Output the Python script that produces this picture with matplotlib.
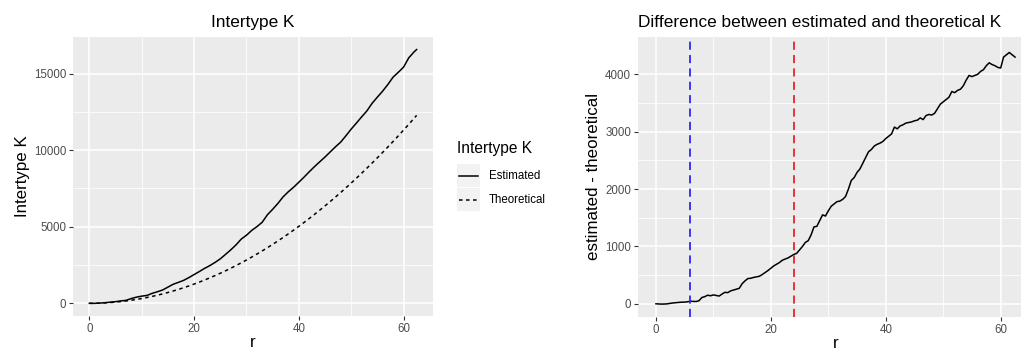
import numpy as np
import matplotlib
matplotlib.use("Agg")
import matplotlib.pyplot as plt
from matplotlib.lines import Line2D
from matplotlib.patches import Rectangle

plt.rcParams['font.family'] = ['Liberation Sans', 'DejaVu Sans']

# distances r (half steps) and estimated - theoretical K
r_fine = np.arange(0, 63, 0.5)
diff = [0, -3, -5, -4, 0, 8, 15, 20, 25, 28, 30, 35, 45, 42, 40, 55,
        110, 125, 150, 140, 155, 145, 135, 170, 200, 195, 225, 240, 255, 270,
        350, 400, 440, 445, 460, 470, 480, 510, 545, 580, 620, 660, 690, 720,
        760, 780, 800, 830, 860, 880, 940, 1000, 1070, 1100, 1200, 1340, 1350,
        1450, 1550, 1530, 1620, 1700, 1740, 1780, 1790, 1820, 1870, 2000, 2150,
        2200, 2290, 2350, 2450, 2550, 2650, 2690, 2750, 2780, 2800, 2830, 2880,
        2920, 2960, 3080, 3050, 3100, 3120, 3150, 3160, 3170, 3190, 3200, 3240,
        3210, 3280, 3300, 3290, 3320, 3400, 3480, 3520, 3560, 3600, 3700, 3680,
        3720, 3740, 3800, 3900, 3980, 3960, 3980, 4000, 4050, 4080, 4150, 4200,
        4170, 4150, 4120, 4110, 4300, 4340, 4380, 4340, 4300]

# r in unit steps and theoretical K
r_unit = list(range(0, 63)) + [62.5]
theo = [0, 3, 13, 28, 50, 79, 113, 154, 201, 254, 314, 380, 452, 531, 616,
        707, 804, 908, 1018, 1134, 1257, 1385, 1521, 1662, 1810, 1963, 2124,
        2290, 2463, 2642, 2827, 3019, 3217, 3421, 3632, 3848, 4072, 4301, 4536,
        4778, 5027, 5281, 5542, 5809, 6082, 6362, 6648, 6940, 7238, 7543, 7854,
        8171, 8495, 8825, 9161, 9503, 9852, 10207, 10568, 10936, 11310, 11690,
        12076, 12272]

diff_unit = [diff[int(v * 2)] for v in r_unit]
estim = [t + d for t, d in zip(theo, diff_unit)]

vlines = [6, 24]
vcolors = ['#2B2BF0', '#E0262B']

W, H = 1021, 352
fig = plt.figure(figsize=(W / 100, H / 100), dpi=100)

def px_axes(x0, y0, x1, y1):
    return fig.add_axes([x0 / W, 1 - y1 / H, (x1 - x0) / W, (y1 - y0) / H])

def gg_style(ax, xlim, ylim, xmaj, ymaj):
    ax.set_facecolor('#EBEBEB')
    ax.set_xlim(*xlim)
    ax.set_ylim(*ylim)
    ax.set_xticks(xmaj)
    ax.set_yticks(ymaj)
    xmin = [(a + b) / 2 for a, b in zip(xmaj[:-1], xmaj[1:])]
    ymin = [(a + b) / 2 for a, b in zip(ymaj[:-1], ymaj[1:])]
    ax.set_xticks(xmin, minor=True)
    ax.set_yticks(ymin, minor=True)
    ax.grid(True, which='major', color='white', lw=1.1)
    ax.grid(True, which='minor', color='white', lw=0.55)
    ax.set_axisbelow(True)
    for s in ax.spines.values():
        s.set_visible(False)
    ax.tick_params(which='major', length=3, width=0.8, color='#333333',
                   labelcolor='#4D4D4D', labelsize=8.3, pad=2)
    ax.tick_params(which='minor', length=0)

# left panel
ax1 = px_axes(73, 37, 433, 316)
gg_style(ax1, (-3.125, 65.625), (-828, 17390), [0, 20, 40, 60],
         [0, 5000, 10000, 15000])
ax1.plot(r_unit, estim, color='black', lw=1.1)
ax1.plot(r_unit, theo, color='black', lw=1.1, dashes=(2.3, 2.3))
ax1.set_title('Intertype K', fontsize=12.4, pad=7)
ax1.set_xlabel('r', fontsize=12.2, labelpad=0)
ax1.set_ylabel('Intertype K', fontsize=12.2, labelpad=3)

# legend
fig.text(457 / W, 1 - 148 / H, 'Intertype K', fontsize=11.2, va='center', ha='left')
labels = ['Estimated', 'Theoretical']
styles = [dict(), dict(dashes=(2.3, 2.3))]
for i, (lab, st) in enumerate(zip(labels, styles)):
    y0 = 164 + i * 24
    fig.patches.append(Rectangle((457 / W, 1 - (y0 + 23) / H), 23 / W, 23 / H,
                                 transform=fig.transFigure, color='#F2F2F2', lw=0))
    fig.lines.append(Line2D([459 / W, 478 / W], [1 - (y0 + 11.5) / H] * 2,
                            transform=fig.transFigure, color='black', lw=1.1, **st))
    fig.text(489 / W, 1 - (y0 + 12) / H, lab, fontsize=8.3, va='center', ha='left')

# right panel (cropped at the figure edge)
ax2 = px_axes(638, 37, 1033, 317)
gg_style(ax2, (-3.125, 65.625), (-230, 4650), [0, 20, 40, 60],
         [0, 1000, 2000, 3000, 4000])
ax2.plot(r_fine, diff, color='black', lw=1.1)
for v, c in zip(vlines, vcolors):
    ax2.axvline(v, color=c, lw=1.3, dashes=(4.5, 2.9))
ax2.set_title('Difference between estimated and theoretical K', fontsize=12.4,
              pad=7, loc='left')
ax2.set_xlabel('r', fontsize=12.2, labelpad=0)
ax2.set_ylabel('estimated - theoretical', fontsize=12.2, labelpad=3)

fig.savefig('out.png', dpi=100)
